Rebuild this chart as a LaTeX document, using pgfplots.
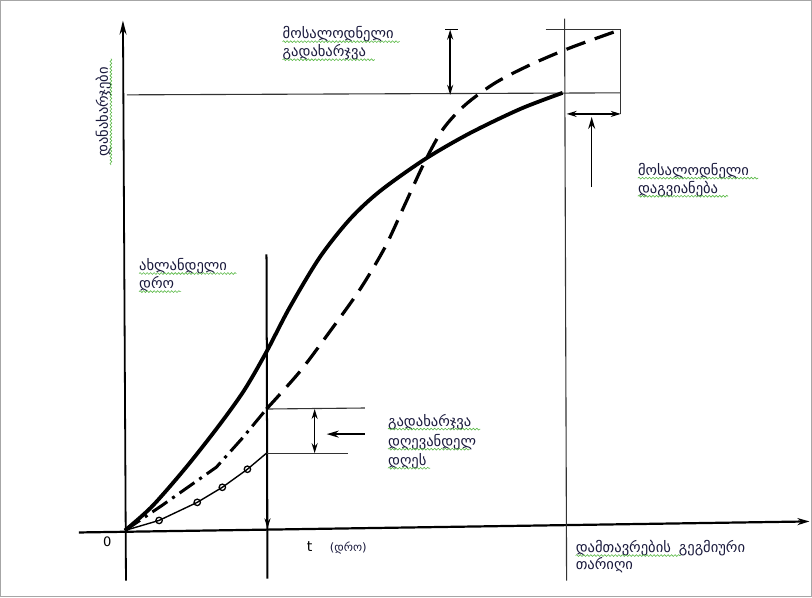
\documentclass[border=0pt]{standalone}
\usepackage{pgfplots}
\pgfplotsset{compat=1.18}
\usepackage{fontspec}
\usetikzlibrary{arrows.meta,decorations.pathmorphing}
\newfontfamily\geo[Script=Georgian]{DejaVu Sans}
\definecolor{wav}{RGB}{90,185,70}
\definecolor{txt}{RGB}{25,25,60}
\tikzset{g/.style={anchor=base west,inner sep=0pt,text=txt,font=\geo\fontsize{14.5bp}{16bp}\selectfont}}
\begin{document}
\begin{tikzpicture}
\begin{axis}[width=812bp,height=598bp,scale only axis,
  xmin=0,xmax=812,ymin=0,ymax=598,y dir=reverse,
  axis lines=none,clip=false]
% frame
\addplot[gray!70,line width=1bp] coordinates {(2,2) (810,2) (810,596) (2,596) (2,2)};
% axes
\addplot[black,line width=2.2bp,-{Stealth[length=12bp,width=7bp]}] coordinates {(80,532) (808,521)};
\addplot[black,line width=1.8bp,-{Stealth[length=14bp,width=7bp]}] coordinates {(127,580) (124,22)};
% current time
\addplot[black,line width=2bp] coordinates {(267,255) (268,578)};
\addplot[black,line width=2bp,-{Stealth[length=10bp,width=6bp]}] coordinates {(268,500) (268,528)};
% planned completion vertical
\addplot[black!80,line width=1.1bp] coordinates {(564,20) (566,580)};
% horizontal reference lines
\addplot[black!80,line width=1.1bp] coordinates {(128,96) (620,94)};
\addplot[black!80,line width=1.1bp] coordinates {(545,31) (620,31) (620,115)};
\addplot[black,line width=1.5bp,{Stealth[length=10bp,width=6bp]}-{Stealth[length=10bp,width=6bp]}] coordinates {(566,115) (620,115)};
\addplot[black,line width=1.5bp,-{Stealth[length=12bp,width=7bp]}] coordinates {(591,188) (591,118)};
\addplot[black,line width=1.4bp,{Stealth[length=10bp,width=6bp]}-{Stealth[length=10bp,width=6bp]}] coordinates {(450,31) (450,96)};
\addplot[black,line width=0.8bp] coordinates {(445,31) (458,31)};
% overspend today
\addplot[black!80,line width=1.1bp] coordinates {(267,409) (365,408)};
\addplot[black!80,line width=1.1bp] coordinates {(267,453) (348,453)};
\addplot[black,line width=1.5bp,{Stealth[length=10bp,width=6bp]}-{Stealth[length=10bp,width=6bp]}] coordinates {(315,409) (315,453)};
\addplot[black,line width=1.6bp,-{Stealth[length=12bp,width=7bp]}] coordinates {(365,434) (327,434)};
% planned (solid)
\addplot[black,line width=3.8bp,smooth,tension=0.5] coordinates {
 (126,530) (153,506) (187,467) (220,425) (245,390) (267,352) (290,308) (320,258)
 (350,220) (380,192) (425,160) (470,134) (520,110) (562,94)};
% forecast dash-dot before today
\addplot[black,line width=3bp,dash pattern=on 18bp off 6bp on 3bp off 6bp] coordinates {
 (126,530) (163,505) (217,467) (243,438) (267,409)};
% forecast dashed after today
\addplot[black,line width=3.2bp,smooth,tension=0.5,dash pattern=on 20bp off 10bp] coordinates {
 (267,409) (300,372) (330,332) (360,290) (385,248) (405,205) (425,162) (443,130)
 (465,106) (495,84) (530,66) (570,49) (620,31)};
% actual (circles)
\addplot[black,line width=1.4bp] coordinates {(126,530) (160,520) (198,502) (223,487) (248,469) (267,453)};
\addplot[only marks,mark=o,mark size=3.2bp,mark options={line width=1.3bp,fill=white}] coordinates {(160,520) (198,502) (223,487) (248,469)};
% labels
\node[g] at (axis cs:283,40) {მოსალოდნელი};
\node[g] at (axis cs:283,58) {გადახარჯვა};
\node[g] at (axis cs:637,176) {მოსალოდნელი};
\node[g] at (axis cs:637,194) {დაგვიანება};
\node[g] at (axis cs:140,271) {ახლანდელი};
\node[g] at (axis cs:140,289) {დრო};
\node[g] at (axis cs:388,426) {გადახარჯვა};
\node[g] at (axis cs:388,446) {დღევანდელ};
\node[g] at (axis cs:388,465) {დღეს};
\node[g] at (axis cs:575,552) {დამთავრების\hspace{8bp}გეგმიური};
\node[g] at (axis cs:575,569) {თარიღი};
\node[g,anchor=base,rotate=90] at (axis cs:109,113) {დანახარჯები};
\node[g,text=black,font=\geo\fontsize{13bp}{16bp}\selectfont] at (axis cs:104,546) {0};
\node[g,text=black,font=\geo\fontsize{14bp}{16bp}\selectfont] at (axis cs:307,551) {t};
\node[g,font=\geo\fontsize{11.5bp}{13bp}\selectfont] at (axis cs:330,551) {(დრო)};
% spell-check underlines
\begin{scope}[wav,line width=0.6bp,decoration={snake,amplitude=0.9bp,segment length=3.5bp}]
\draw[decorate] (axis cs:283,43) -- (axis cs:400,43);
\draw[decorate] (axis cs:283,61) -- (axis cs:375,61);
\draw[decorate] (axis cs:637,179) -- (axis cs:757,179);
\draw[decorate] (axis cs:637,197) -- (axis cs:727,197);
\draw[decorate] (axis cs:140,274) -- (axis cs:237,274);
\draw[decorate] (axis cs:140,292) -- (axis cs:182,292);
\draw[decorate] (axis cs:388,429) -- (axis cs:480,429);
\draw[decorate] (axis cs:388,449) -- (axis cs:470,449);
\draw[decorate] (axis cs:388,468) -- (axis cs:430,468);
\draw[decorate] (axis cs:575,555) -- (axis cs:680,555);
\draw[decorate] (axis cs:112,60) -- (axis cs:112,166);
\end{scope}
\end{axis}
\end{tikzpicture}
\end{document}
